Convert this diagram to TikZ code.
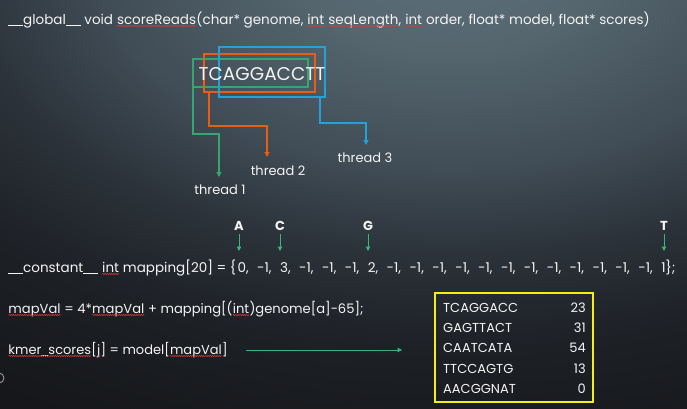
\documentclass[tikz,border=0pt]{standalone}
\usepackage{fontspec}
\setmainfont{Poppins}
\usetikzlibrary{arrows.meta,decorations.pathmorphing}

\definecolor{bgA}{HTML}{5C6E7A}
\definecolor{bgB}{HTML}{55666F}
\definecolor{bgC}{HTML}{404C56}
\definecolor{bgD}{HTML}{2A3138}
\definecolor{bgE}{HTML}{1D2025}
\definecolor{bgF}{HTML}{15171A}
\definecolor{codewhite}{HTML}{F4F4F4}
\definecolor{thrgreen}{HTML}{35A572}
\definecolor{throrange}{HTML}{E85E14}
\definecolor{thrblue}{HTML}{22A2D8}
\definecolor{mapgreen}{HTML}{38B57C}
\definecolor{tblyellow}{HTML}{F2EE1A}
\definecolor{spellred}{HTML}{D83A3A}

\pgfdeclareradialshading{slidebg}{\pgfpoint{0bp}{0bp}}{%
  color(0bp)=(bgA); color(3.75bp)=(bgB); color(8.75bp)=(bgC);
  color(12.5bp)=(bgD); color(16.25bp)=(bgE); color(21.25bp)=(bgF); color(50bp)=(bgF)}

% wavy spell-check underline under a word
\newcommand\sq[1]{\tikz[baseline=(w.base)]{\node[inner sep=0pt,outer sep=0pt,text=codewhite](w){#1};
  \draw[spellred,line width=0.55pt,decorate,decoration={snake,amplitude=0.6pt,segment length=2.2pt}]
    ([yshift=-2pt]w.base west) -- ([yshift=-2pt]w.base east);}}
% continuous underscores
\newcommand\uu{\rule[-1.6pt]{15pt}{0.9pt}}
\newcommand\us{\rule[-1.6pt]{7pt}{0.9pt}}
% wider inter-word gaps for the array initialiser
\newcommand\widegaps{\spaceskip=8.45pt plus 1pt\relax}

\begin{document}
\begin{tikzpicture}[x=1pt,y=-1pt,
  codeline/.style={text=codewhite,inner sep=0pt,anchor=base west,font=\fontsize{13.5}{16}\selectfont},
  thrlabel/.style={text=codewhite,inner sep=0pt,font=\fontsize{13}{15}\selectfont},
  basebox/.style={text=codewhite,inner sep=0pt,font=\fontsize{13}{15}\selectfont\bfseries},
  selbox/.style={draw,line width=1.6pt,inner sep=0pt},
  thrconn/.style={line width=1.5pt,-{Triangle[length=5pt,width=5pt]}},
  mapconn/.style={mapgreen,line width=0.9pt,-{Triangle[length=4.5pt,width=4.5pt]}},
  cellL/.style={text=codewhite,inner sep=0pt,anchor=base west,font=\fontsize{13}{15}\selectfont},
  cellR/.style={text=codewhite,inner sep=0pt,anchor=base east,font=\fontsize{13}{15}\selectfont}]

\useasboundingbox (0,0) rectangle (687,408);

% slide background
\begin{scope}
  \clip (0,0) rectangle (687,408);
  \begin{scope}[shift={(450,-40)},yscale=0.6]
    \shade[shading=slidebg] (0,0) circle[radius=1000];
  \end{scope}
\end{scope}

% kernel signature
\node[codeline] (sig) at (8,24)
  {\uu global\uu{} void \sq{scoreReads}(char* genome, \sq{int} \sq{seqLength}, \sq{int} order, float* model, float* scores)};

% three thread windows over the read
\node[selbox,thrgreen,minimum width=115pt,minimum height=28pt] (gbox) at (250.5,73) {};
\node[selbox,throrange,minimum width=111pt,minimum height=38pt] (obox) at (259.5,73) {};
\node[selbox,thrblue,minimum width=106pt,minimum height=50pt] (bbox) at (272,72) {};
\node[text=codewhite,inner sep=0pt,font=\fontsize{18.5}{22}\selectfont] (genome) at (262,74.5) {TCAGGACCTT};

\node[thrlabel] (t1) at (220,190) {thread 1};
\node[thrlabel] (t2) at (278,171) {thread 2};
\node[thrlabel] (t3) at (365,158) {thread 3};
\coordinate (t1in) at (219,177);
\coordinate (t2in) at (267,157);
\coordinate (t3in) at (366,145);

\draw[thrconn,thrgreen] ([xshift=1pt]gbox.south west) -- ++(0,46) -| (t1in);
\draw[thrconn,throrange] ([xshift=6pt]obox.south west) -- ++(0,33) -| (t2in);
\draw[thrconn,thrblue] ([xshift=-6pt]bbox.south east) -- ++(0,25) -| (t3in);

% base lookup table
\node[basebox] (bA) at (239,226) {A};
\node[basebox] (bC) at (280,226) {C};
\node[basebox] (bG) at (368,226) {G};
\node[basebox] (bT) at (664,226) {T};
\coordinate (mA) at (239,251);
\coordinate (mC) at (280,251);
\coordinate (mG) at (368,251);
\coordinate (mT) at (664,251);
\draw[mapconn] ([yshift=-3pt]bA.south) -- (mA);
\draw[mapconn] ([yshift=-3pt]bC.south) -- (mC);
\draw[mapconn] ([yshift=-3pt]bG.south) -- (mG);
\draw[mapconn] ([yshift=-3pt]bT.south) -- (mT);

\node[codeline] (mapdecl) at (8,272)
  {\uu constant\uu{} \sq{int} mapping[20] = \{};
\node[codeline,anchor=base west] (mapinit) at ([xshift=1pt]mapdecl.base east)
  {\widegaps 0, -1, 3, -1, -1, -1, 2, -1, -1, -1, -1, -1, -1, -1, -1, -1, -1, -1, -1, 1\};};

\node[codeline,font=\fontsize{13.1}{16}\selectfont] (mapval) at (8,313)
  {\sq{mapVal} = 4*\sq{mapVal} + mapping[(\sq{int})genome[a]-65];};

\node[codeline,font=\fontsize{13}{16}\selectfont] (kmer) at (8,354)
  {\sq{kmer\us scores}[\sq{j}] = model[\sq{mapVal}]};

% score table
\node[draw=tblyellow,line width=1.6pt,minimum width=158pt,minimum height=109pt,inner sep=0pt] (tbl) at (514,347.5) {};
\node[cellL] (k1) at (443,312) {TCAGGACC};
\node[cellL] (k2) at (443,332) {GAGTTACT};
\node[cellL] (k3) at (443,352) {CAATCATA};
\node[cellL] (k4) at (443,373) {TTCCAGTG};
\node[cellL] (k5) at (443,393) {AACGGNAT};
\node[cellR] (s1) at (586,312) {23};
\node[cellR] (s2) at (586,332) {31};
\node[cellR] (s3) at (586,352) {54};
\node[cellR] (s4) at (586,373) {13};
\node[cellR] (s5) at (586,393) {0};

\coordinate (kend) at (402,350);
\draw[mapconn] ([xshift=18pt,yshift=4pt]kmer.base east) -- (kend);

% slide marker at the left edge
\draw[gray!70,line width=0.8pt] (-1,378) circle[radius=5];
\end{tikzpicture}
\end{document}
